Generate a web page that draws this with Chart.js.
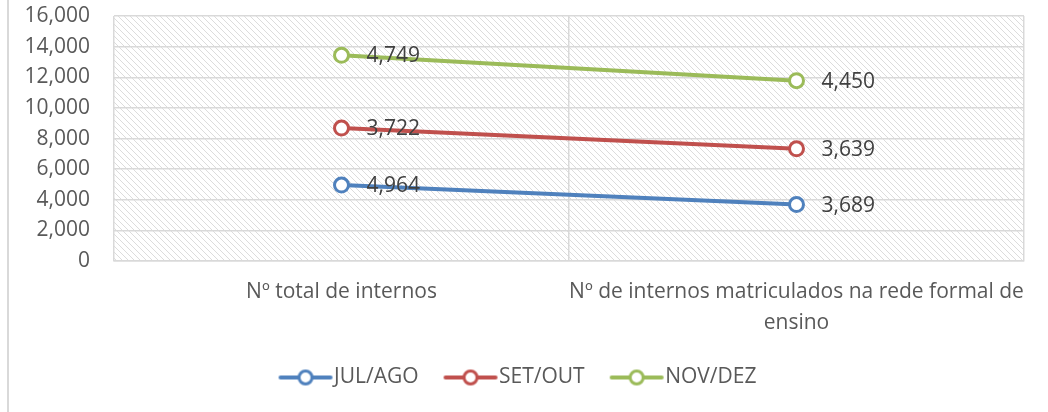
<!DOCTYPE html>
<html>
<head>
<meta charset="utf-8">
<script src="https://cdn.jsdelivr.net/npm/chart.js@4/dist/chart.umd.min.js"></script>
<style>
  body { margin: 0; background: #ffffff; }
  #wrap { position: relative; width: 1048px; height: 412px; }
  #frame { position: absolute; left: 7px; top: 0; width: 2px; height: 412px; background: #d9d9d9; }
</style>
</head>
<body>
<div id="wrap">
  <div id="frame"></div>
  <canvas id="chart" width="1048" height="412"></canvas>
</div>
<script>
// Categories and series values (stacked line chart)
const categories = [ "Nº total de internos", [ "Nº de internos matriculados na rede formal de", "ensino" ] ];
const julAgo = [ 4964, 3689 ];
const setOut = [ 3722, 3639 ];
const novDez = [ 4749, 4450 ];
const seriesNames = [ "JUL/AGO", "SET/OUT", "NOV/DEZ" ];
const seriesColors = [ "#4F81BD", "#C0504D", "#9BBB59" ];

const FONT = "'Open Sans', sans-serif";
const FONT_SIZE = 21;

// Diagonal hatch for the plot area background
function makeHatch() {
  let c = document.createElement( "canvas" );
  c.width = 6; c.height = 6;
  let ctx = c.getContext( "2d" );
  ctx.fillStyle = "#ffffff";
  ctx.fillRect( 0, 0, 6, 6 );
  ctx.strokeStyle = "#dcdcdc";
  ctx.lineWidth = 1;
  ctx.beginPath();
  ctx.moveTo( -1, -1 ); ctx.lineTo( 7, 7 );
  ctx.moveTo( -1, 5 ); ctx.lineTo( 1, 7 );
  ctx.moveTo( 5, -1 ); ctx.lineTo( 7, 1 );
  ctx.stroke();
  return ctx.createPattern( c, "repeat" );
}

// Legend symbol: short line with an open circle (shifted right so it sits close to the text)
function legendSymbol( color ) {
  let c = document.createElement( "canvas" );
  c.width = 80; c.height = 18;
  let ctx = c.getContext( "2d" );
  ctx.strokeStyle = color;
  ctx.lineWidth = 4;
  ctx.lineCap = "round";
  ctx.beginPath();
  ctx.moveTo( 25, 9 ); ctx.lineTo( 75, 9 );
  ctx.stroke();
  ctx.beginPath();
  ctx.arc( 50, 9, 6.5, 0, Math.PI * 2 );
  ctx.fillStyle = "#ffffff";
  ctx.fill();
  ctx.lineWidth = 3;
  ctx.stroke();
  return c;
}

const hatchPlugin = {
  id: "hatch",
  beforeDraw( chart ) {
    let a = chart.chartArea;
    let ctx = chart.ctx;
    ctx.save();
    ctx.fillStyle = makeHatch();
    ctx.fillRect( a.left, a.top, a.right - a.left, a.bottom - a.top );
    ctx.restore();
  }
};

const valueLabels = {
  id: "valueLabels",
  afterDatasetsDraw( chart ) {
    let ctx = chart.ctx;
    ctx.save();
    ctx.font = FONT_SIZE + "px " + FONT;
    ctx.fillStyle = "#404040";
    ctx.textAlign = "left";
    ctx.textBaseline = "middle";
    chart.data.datasets.forEach( ( ds, i ) => {
      chart.getDatasetMeta( i ).data.forEach( ( pt, j ) => {
        ctx.fillText( ds.data[ j ].toLocaleString( "en-US" ), pt.x + 25, pt.y + 1 );
      } );
    } );
    ctx.restore();
  }
};

const seriesData = [ julAgo, setOut, novDez ];

new Chart( document.getElementById( "chart" ), {
  type: "line",
  data: {
    labels: categories,
    datasets: seriesData.map( ( d, i ) => ( {
      label: seriesNames[ i ],
      data: d,
      borderColor: seriesColors[ i ],
      backgroundColor: "#ffffff",
      borderWidth: 4,
      pointRadius: 7,
      pointBorderWidth: 3,
      pointBackgroundColor: "#ffffff",
      pointBorderColor: seriesColors[ i ],
      tension: 0,
      fill: false
    } ) )
  },
  options: {
    responsive: false,
    animation: false,
    layout: { padding: { left: 0, right: 24, top: 0, bottom: 14 } },
    plugins: {
      tooltip: { enabled: false },
      legend: {
        position: "bottom",
        labels: {
          font: { family: FONT, size: FONT_SIZE },
          color: "#595959",
          usePointStyle: true,
          pointStyleWidth: 56,
          padding: 14,
          generateLabels( chart ) {
            return chart.data.datasets.map( ( ds, i ) => ( {
              text: ds.label,
              pointStyle: legendSymbol( seriesColors[ i ] ),
              fontColor: "#595959",
              datasetIndex: i,
              lineWidth: 0
            } ) );
          }
        }
      }
    },
    scales: {
      x: {
        offset: true,
        afterFit( scale ) { scale.height = scale.height - 1; },
        grid: { offset: true, color: "#d9d9d9", lineWidth: 1.5, drawTicks: false },
        border: { color: "#d9d9d9", width: 1.5 },
        ticks: {
          font: { family: FONT, size: FONT_SIZE, lineHeight: 1.45 },
          color: "#595959",
          padding: 16,
          maxRotation: 0,
          autoSkip: false
        }
      },
      y: {
        stacked: true,
        min: 0,
        max: 16000,
        afterFit( scale ) {
          scale.width = 114;
          scale.paddingTop = 16;
        },
        grid: { color: "#d9d9d9", lineWidth: 1.5, drawTicks: false },
        border: { display: false },
        ticks: {
          stepSize: 2000,
          font: { family: FONT, size: FONT_SIZE },
          color: "#595959",
          padding: 24,
          callback: ( v ) => v.toLocaleString( "en-US" )
        }
      }
    }
  },
  plugins: [ hatchPlugin, valueLabels ]
} );
</script>
</body>
</html>
